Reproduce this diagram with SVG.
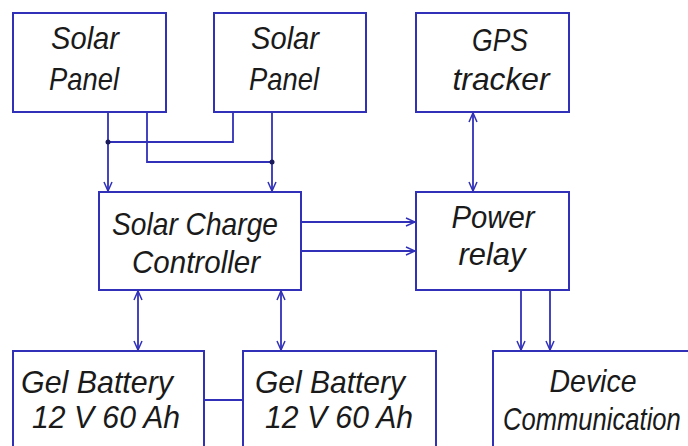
<svg xmlns="http://www.w3.org/2000/svg" width="688" height="446" viewBox="0 0 688 446">
<style>
.box{fill:#fff;stroke:#3030b8;stroke-width:2}
.ln{fill:none;stroke:#3030b8;stroke-width:1.8}
.t{font-family:"Liberation Sans",Arial,sans-serif;font-style:italic;font-size:32px;fill:#1a1a1a;text-anchor:middle}
</style>
<defs>
<marker id="ah" viewBox="0 0 10 10" refX="10" refY="5" markerWidth="10" markerHeight="10" markerUnits="userSpaceOnUse" orient="auto-start-reverse">
<polyline points="1,1 10,5 1,9" fill="none" stroke="#3030b8" stroke-width="1.5"/>
</marker>
</defs>
<rect width="688" height="446" fill="#fff"/>
<g id="connectors">
<polyline class="ln" points="108,112 108,191" marker-end="url(#ah)"/>
<polyline class="ln" points="147,112 147,162 272,162"/>
<polyline class="ln" points="233,112 233,142 108,142"/>
<polyline class="ln" points="272,112 272,191" marker-end="url(#ah)"/>
<circle cx="108" cy="142" r="2.5" fill="#1a1a5a"/>
<circle cx="272" cy="162" r="2.5" fill="#1a1a5a"/>
<polyline class="ln" points="301,222 415,222" marker-end="url(#ah)"/>
<polyline class="ln" points="301,251 415,251" marker-end="url(#ah)"/>
<polyline class="ln" points="473,113 473,191" marker-start="url(#ah)" marker-end="url(#ah)"/>
<polyline class="ln" points="521,290 521,350" marker-end="url(#ah)"/>
<polyline class="ln" points="550,290 550,350" marker-end="url(#ah)"/>
<polyline class="ln" points="138,291 138,350" marker-start="url(#ah)" marker-end="url(#ah)"/>
<polyline class="ln" points="281,291 281,350" marker-start="url(#ah)" marker-end="url(#ah)"/>
<polyline class="ln" points="204,400 243,400"/>
</g>
<g id="solar-panel-1">
<rect class="box" x="13" y="13" width="153" height="99"/>
<text class="t" x="85" y="49" textLength="68" lengthAdjust="spacingAndGlyphs">Solar</text>
<text class="t" x="84" y="90" textLength="70" lengthAdjust="spacingAndGlyphs">Panel</text>
</g>
<g id="solar-panel-2">
<rect class="box" x="214" y="13" width="152" height="99"/>
<text class="t" x="285" y="49" textLength="68" lengthAdjust="spacingAndGlyphs">Solar</text>
<text class="t" x="284" y="90" textLength="70" lengthAdjust="spacingAndGlyphs">Panel</text>
</g>
<g id="gps-tracker">
<rect class="box" x="416" y="13" width="153" height="99"/>
<text class="t" x="500" y="51" textLength="56" lengthAdjust="spacingAndGlyphs">GPS</text>
<text class="t" x="501" y="90" textLength="97" lengthAdjust="spacingAndGlyphs">tracker</text>
</g>
<g id="solar-charge-controller">
<rect class="box" x="99" y="192" width="202" height="98"/>
<text class="t" x="195" y="235" textLength="166" lengthAdjust="spacingAndGlyphs">Solar Charge</text>
<text class="t" x="196" y="273" textLength="128" lengthAdjust="spacingAndGlyphs">Controller</text>
</g>
<g id="power-relay">
<rect class="box" x="416" y="192" width="153" height="98"/>
<text class="t" x="493" y="228" textLength="83" lengthAdjust="spacingAndGlyphs">Power</text>
<text class="t" x="492" y="265" textLength="67" lengthAdjust="spacingAndGlyphs">relay</text>
</g>
<g id="gel-battery-1">
<rect class="box" x="13" y="351" width="191" height="110"/>
<text class="t" x="97" y="393" textLength="152" lengthAdjust="spacingAndGlyphs">Gel Battery</text>
<text class="t" x="106" y="428" textLength="148" lengthAdjust="spacingAndGlyphs">12 V 60 Ah</text>
</g>
<g id="gel-battery-2">
<rect class="box" x="243" y="351" width="193" height="110"/>
<text class="t" x="330" y="393" textLength="150" lengthAdjust="spacingAndGlyphs">Gel Battery</text>
<text class="t" x="339" y="428" textLength="148" lengthAdjust="spacingAndGlyphs">12 V 60 Ah</text>
</g>
<g id="device-communication">
<rect class="box" x="493" y="351" width="220" height="110"/>
<text class="t" x="593" y="392" textLength="87" lengthAdjust="spacingAndGlyphs">Device</text>
<text class="t" x="0" y="0" style="text-anchor:start" transform="translate(503,430) scale(0.8,1)">Communication</text>
</g>
</svg>
